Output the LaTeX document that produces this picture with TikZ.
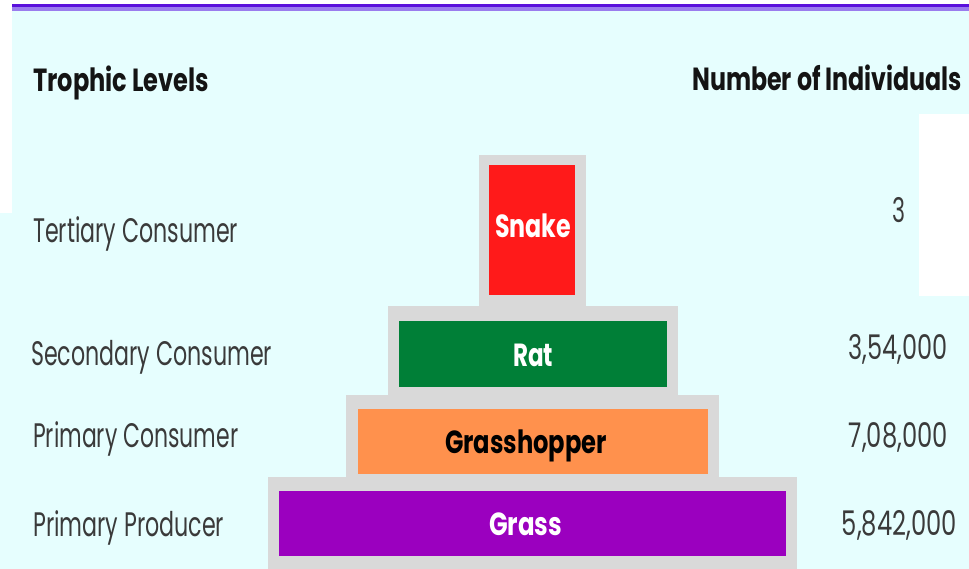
\documentclass[tikz,border=0pt]{standalone}
\usepackage{fontspec}
\setmainfont{Poppins}
\usepackage{graphicx}
\newcommand\fw[2]{\resizebox{#1pt}{\height}{#2}}
\definecolor{bgc}{HTML}{E6FEFE}
\definecolor{lineA}{HTML}{5A10DC}
\definecolor{lineB}{HTML}{9A7CEE}
\definecolor{backg}{HTML}{D9D9D9}
\definecolor{snakec}{HTML}{FF1A1A}
\definecolor{ratc}{HTML}{007F37}
\definecolor{hopc}{HTML}{FF914D}
\definecolor{grassc}{HTML}{9B00BF}
\definecolor{txt}{HTML}{3A3A3A}
\definecolor{head}{HTML}{141414}
\tikzset{
  plate/.style={fill=backg, draw=none, inner sep=0pt, outer sep=0pt},
  tier/.style={draw=none, inner sep=0pt, outer sep=0pt},
  lbl/.style={anchor=base west, inner sep=0pt, text=txt, font=\fontsize{34}{36}\selectfont},
  num/.style={anchor=base east, inner sep=0pt, text=txt, font=\fontsize{34}{36}\selectfont},
  hd/.style={anchor=base west, inner sep=0pt, text=head, font=\fontsize{32}{34}\selectfont\bfseries},
  boxtxt/.style={anchor=base, inner sep=0pt, font=\fontsize{32}{34}\selectfont\bfseries}
}
\begin{document}
\begin{tikzpicture}[x=1pt,y=-1pt]
\useasboundingbox (0,0) rectangle (969,569);
\fill[white] (0,0) rectangle (969,569);
\fill[bgc] (12,11) rectangle (969,569);
\fill[bgc] (0,213) rectangle (12,569);
\fill[lineA] (12,4) rectangle (969,7.5);
\fill[lineB] (12,7.5) rectangle (969,11);
\fill[white] (919,114) rectangle (969,296);
% plates
\node[plate, minimum width=107pt, minimum height=152pt] (snakeback) at (532.5,231) {};
\node[plate, minimum width=290pt, minimum height=89pt] (ratback) at (533,350.5) {};
\node[plate, minimum width=373pt, minimum height=82pt] (hopback) at (532.5,436) {};
\node[plate, minimum width=529pt, minimum height=92pt] (grassback) at (532.5,523) {};
% tiers
\node[tier, fill=snakec, minimum width=86pt, minimum height=130pt] (snake) at (532,230) {};
\node[tier, fill=ratc, minimum width=268pt, minimum height=66pt] (rat) at (533,354) {};
\node[tier, fill=hopc, minimum width=350pt, minimum height=65pt] (hop) at (533,441.5) {};
\node[tier, fill=grassc, minimum width=507pt, minimum height=65pt] (grass) at (532.5,523.5) {};
% tier texts
\node[boxtxt, text=white] (snaket) at (533,238) {\fw{76}{Snake}};
\node[boxtxt, text=white] (ratt) at (533,366) {\fw{40}{Rat}};
\node[boxtxt, text=black] (hopt) at (526,453) {\fw{162}{Grasshopper}};
\node[boxtxt, text=white] (grasst) at (525.5,535) {\fw{73}{Grass}};
% headings
\node[hd] (h1) at (33,92) {\fw{176}{Trophic Levels}};
\node[hd] (h2) at (692,91) {\fw{270}{Number of Individuals}};
% level labels
\node[lbl] (l1) at (33,243) {\fw{205}{Tertiary Consumer}};
\node[lbl] (l2) at (31,365) {\fw{241}{Secondary Consumer}};
\node[lbl] (l3) at (33,447) {\fw{205}{Primary Consumer}};
\node[lbl] (l4) at (33,536) {\fw{191}{Primary Producer}};
% numbers
\node[num] (n1) at (906,223) {\fw{13}{3}};
\node[num] (n2) at (948,359) {\fw{99}{3,54,000}};
\node[num] (n3) at (948,447) {\fw{99}{7,08,000}};
\node[num] (n4) at (957,535) {\fw{115}{5,842,000}};
\end{tikzpicture}
\end{document}
